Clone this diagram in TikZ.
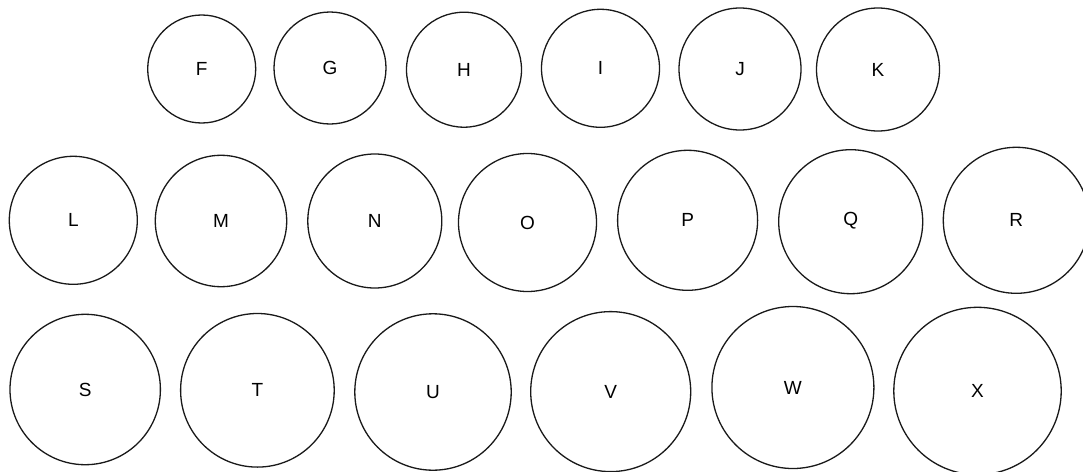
\documentclass[tikz,border=0pt]{standalone}
\usepackage{fontspec}
\setmainfont{Liberation Sans}
\begin{document}
\begin{tikzpicture}[x=1pt,y=-1pt,
  ball/.style={circle,draw=black!90,line width=1.3pt,inner sep=0pt,
    font=\fontsize{19}{21}\selectfont}]
\useasboundingbox (0,0) rectangle (1083,471);
\fill[white] (0,0) rectangle (1083,471);
% row 1
\node[ball,minimum size=108pt] (F) at (201.7,69) {F};
\node[ball,minimum size=112pt] (G) at (330,68) {G};
\node[ball,minimum size=115pt] (H) at (464,69.7) {H};
\node[ball,minimum size=118pt] (I) at (600.5,68.3) {I};
\node[ball,minimum size=122pt] (J) at (740,69) {J};
\node[ball,minimum size=123pt] (K) at (878,69.5) {K};
% row 2
\node[ball,minimum size=128pt] (L) at (73.3,220.3) {L};
\node[ball,minimum size=131.4pt] (M) at (221,221) {M};
\node[ball,minimum size=134pt] (N) at (374.8,221) {N};
\node[ball,minimum size=138pt] (O) at (527.5,222.5) {O};
\node[ball,minimum size=140pt] (P) at (687.6,220.3) {P};
\node[ball,minimum size=144pt] (Q) at (850.7,221.7) {\raisebox{5pt}{Q}};
\node[ball,minimum size=146pt] (R) at (1016.3,220.3) {R};
% row 3
\node[ball,minimum size=150.4pt] (S) at (85.2,389.5) {S};
\node[ball,minimum size=153.6pt] (T) at (257.4,390.3) {T};
\node[ball,minimum size=156.4pt] (U) at (433,392) {U};
\node[ball,minimum size=160pt] (V) at (610.7,391.6) {V};
\node[ball,minimum size=162pt] (W) at (792.9,387.5) {W};
\node[ball,minimum size=167.4pt] (X) at (977.5,391) {X};
\end{tikzpicture}
\end{document}
